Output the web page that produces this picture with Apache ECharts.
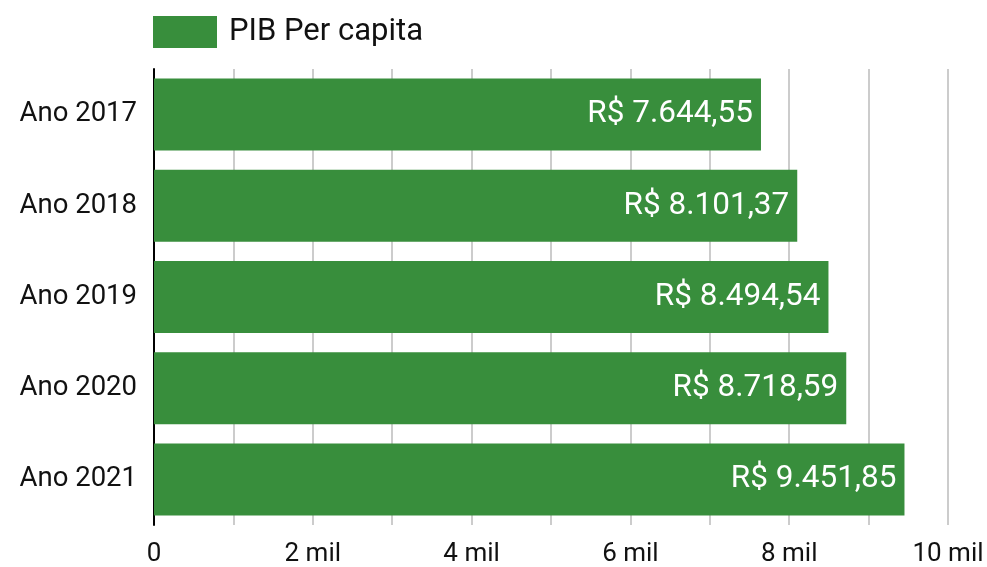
<!DOCTYPE html>
<html>
<head>
<meta charset="utf-8">
<script src="https://cdn.jsdelivr.net/npm/echarts@6/dist/echarts.min.js"></script>
<style>
  html, body { margin: 0; padding: 0; background: #fff; }
  #chart { width: 987px; height: 567px; }
</style>
</head>
<body>
<div id="chart"></div>
<script>
    // --- dados ---
    const anos = ['Ano 2017', 'Ano 2018', 'Ano 2019', 'Ano 2020', 'Ano 2021'];
    const pibPerCapita = [7644.55, 8101.37, 8494.54, 8718.59, 9451.85];
    const nomeSerie = 'PIB Per capita';

    const fmtBRL = v => 'R$ ' + v.toLocaleString('pt-BR', { minimumFractionDigits: 2, maximumFractionDigits: 2 });
    const fmtMil = v => v === 0 ? '0' : (v / 1000) + ' mil';

    const chart = echarts.init(document.getElementById('chart'));
    chart.setOption({
        textStyle: { fontFamily: 'Roboto' },
        legend: {
            data: [nomeSerie], left: 148, top: 11,
            itemWidth: 64, itemHeight: 32, itemGap: 10,
            icon: 'rect',
            textStyle: { fontSize: 31, color: '#111', padding: [0, 0, 0, 7] }
        },
        grid: { left: 154, right: 39, top: 69, bottom: 42, containLabel: false },
        xAxis: {
            type: 'value', min: 0, max: 10000, interval: 2000,
            axisLine: { show: false }, axisTick: { show: false },
            axisLabel: { formatter: fmtMil, fontSize: 26, color: '#111', margin: 16 },
            splitLine: { lineStyle: { color: '#cccccc', width: 2 } },
            minorTick: { show: false, splitNumber: 2 },
            minorSplitLine: { show: true, lineStyle: { color: '#cccccc', width: 2 } }
        },
        yAxis: {
            type: 'category', data: anos, inverse: true,
            axisLine: { show: true, lineStyle: { color: '#000', width: 2 } },
            axisTick: { show: false },
            axisLabel: { fontSize: 27.5, color: '#111', margin: 17 }
        },
        series: [{
            name: nomeSerie, type: 'bar', data: pibPerCapita,
            barCategoryGap: '21%',
            itemStyle: { color: '#388e3c' },
            label: {
                show: true, position: 'insideRight', distance: 8,
                color: '#fff', fontSize: 31.5, formatter: p => fmtBRL(p.value)
            }
        }]
    });
</script>
</body>
</html>
